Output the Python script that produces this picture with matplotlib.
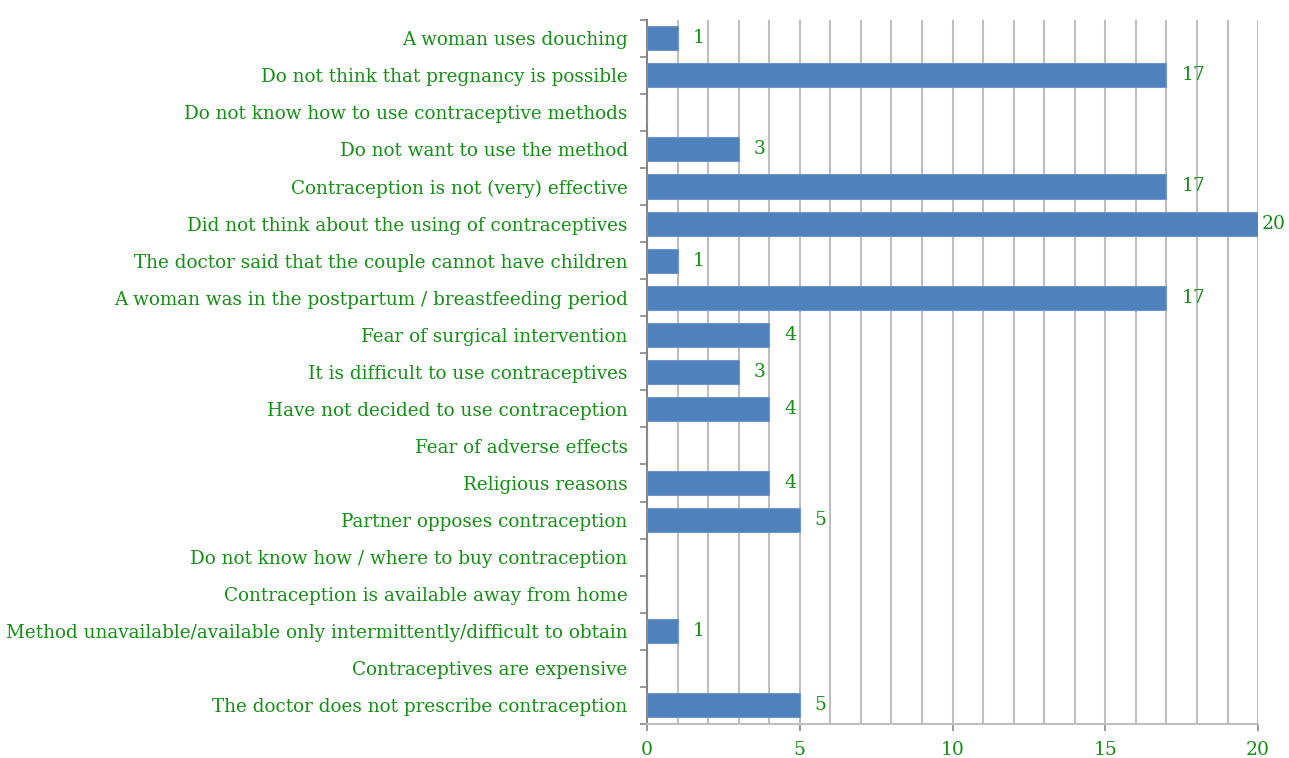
import matplotlib.pyplot as plt
import numpy as np

# Reasons for not using contraception (top to bottom as shown)
reasons = [
    'A woman uses douching',
    'Do not think that pregnancy is possible',
    'Do not know how to use contraceptive methods',
    'Do not want to use the method',
    'Contraception is not (very) effective',
    'Did not think about the using of contraceptives',
    'The doctor said that the couple cannot have children',
    'A woman was in the postpartum / breastfeeding period',
    'Fear of surgical intervention',
    'It is difficult to use contraceptives',
    'Have not decided to use contraception',
    'Fear of adverse effects',
    'Religious reasons',
    'Partner opposes contraception',
    'Do not know how / where to buy contraception',
    'Contraception is available away from home',
    'Method unavailable/available only intermittently/difficult to obtain',
    'Contraceptives are expensive',
    'The doctor does not prescribe contraception',
]
counts = [1, 17, 0, 3, 17, 20, 1, 17, 4, 3, 4, 0, 4, 5, 0, 0, 1, 0, 5]
x_ticks = [0, 5, 10, 15, 20]

text_green = '#139013'
bar_blue = '#4F81BD'
axis_gray = '#868686'
grid_gray = '#BFBFBF'

plt.rcParams['font.family'] = ['DejaVu Serif']

fig = plt.figure(figsize=(12.89, 7.58), dpi=100)
ax = fig.add_axes([0.502, 0.045, 0.474, 0.929])

y = np.arange(len(reasons))[::-1]
ax.barh(y, counts, height=0.65, color=bar_blue, edgecolor='#6F96C8', linewidth=0.8, zorder=3)

for yi, v in zip(y, counts):
    if v > 0:
        pad = 4 if v == max(counts) else 15
        ax.annotate(str(v), (v, yi), xytext=(pad, 0), textcoords='offset pixels',
                    ha='left', va='center', color=text_green, fontsize=13.5)

ax.set_xlim(0, 20)
ax.set_ylim(-0.5, len(reasons) - 0.5)

# vertical grid at every unit
for gx in range(1, 21):
    ax.axvline(gx, color=grid_gray, linewidth=1.5, zorder=1)

ax.set_xticks(x_ticks)
ax.set_xticklabels([str(t) for t in x_ticks])
ax.set_yticks(y)
ax.set_yticklabels(reasons)
ax.set_yticks(np.arange(-0.5, len(reasons), 1.0), minor=True)

ax.tick_params(axis='y', which='major', length=0, pad=14, labelsize=13.2, labelcolor=text_green)
ax.tick_params(axis='y', which='minor', length=5, width=1.2, color=axis_gray)
ax.tick_params(axis='x', length=5, width=1.2, color=axis_gray, labelsize=13.5,
               labelcolor=text_green, pad=7)

for side in ['top', 'right']:
    ax.spines[side].set_visible(False)
ax.spines['left'].set_color(axis_gray)
ax.spines['left'].set_linewidth(1.5)
ax.spines['bottom'].set_color(grid_gray)
ax.spines['bottom'].set_linewidth(1.5)

fig.savefig('out.png', dpi=100)
